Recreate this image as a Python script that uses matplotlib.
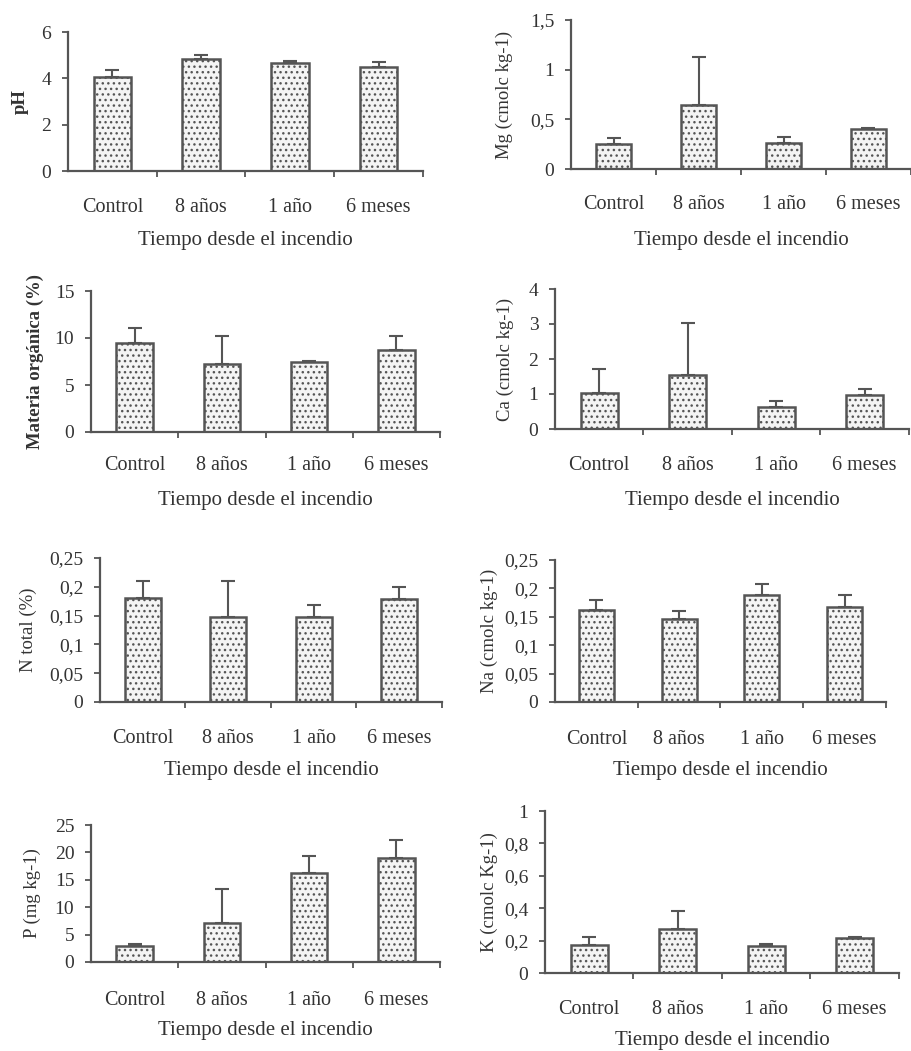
import numpy as np
import matplotlib
matplotlib.use("Agg")
import matplotlib.pyplot as plt

plt.rcParams['font.family'] = ['Liberation Serif', 'DejaVu Serif']
plt.rcParams['hatch.linewidth'] = 1.0

# --- datos ---
categorias = ['Control', '8 años', '1 año', '6 meses']
xlabel_txt = 'Tiempo desde el incendio'

ph_media = [4.05, 4.82, 4.67, 4.50]
ph_de = [0.32, 0.17, 0.06, 0.20]

mg_media = [0.25, 0.645, 0.26, 0.40]
mg_de = [0.06, 0.48, 0.06, 0.015]

mo_media = [9.45, 7.25, 7.40, 8.75]
mo_de = [1.65, 3.00, 0.15, 1.45]

ca_media = [1.02, 1.55, 0.63, 0.97]
ca_de = [0.70, 1.48, 0.16, 0.17]

n_media = [0.180, 0.148, 0.147, 0.179]
n_de = [0.030, 0.062, 0.022, 0.020]

na_media = [0.162, 0.147, 0.189, 0.168]
na_de = [0.018, 0.014, 0.018, 0.021]

p_media = [2.97, 7.16, 16.2, 19.0]
p_de = [0.30, 6.20, 3.20, 3.30]

k_media = [0.174, 0.270, 0.168, 0.219]
k_de = [0.051, 0.110, 0.010, 0.006]

ph_ticks = [0, 2, 4, 6]
mg_ticks = [0, 0.5, 1, 1.5]
mo_ticks = [0, 5, 10, 15]
ca_ticks = [0, 1, 2, 3, 4]
n_ticks = [0, 0.05, 0.1, 0.15, 0.2, 0.25]
na_ticks = [0, 0.05, 0.1, 0.15, 0.2, 0.25]
p_ticks = [0, 5, 10, 15, 20, 25]
k_ticks = [0, 0.2, 0.4, 0.6, 0.8, 1]

paneles = [
    ('pH', ph_media, ph_de, ph_ticks, True),
    ('Mg (cmolc kg-1)', mg_media, mg_de, mg_ticks, False),
    ('Materia orgánica (%)', mo_media, mo_de, mo_ticks, True),
    ('Ca (cmolc kg-1)', ca_media, ca_de, ca_ticks, False),
    ('N total (%)', n_media, n_de, n_ticks, False),
    ('Na (cmolc kg-1)', na_media, na_de, na_ticks, False),
    ('P (mg kg-1)', p_media, p_de, p_ticks, False),
    ('K (cmolc Kg-1)', k_media, k_de, k_ticks, False),
]

# posiciones en pixeles: izquierda, derecha, arriba, abajo
W, H = 912, 1051
cajas = [(68, 423, 32, 171), (571, 911, 20, 169),
         (91, 440, 291, 432), (555, 909, 289, 429),
         (100, 442, 558, 702), (555, 886, 560, 702),
         (91, 440, 825, 962), (545, 899, 811, 973)]
ylab_x = [20, 504, 35, 505, 28, 489, 32, 489]
ticklab_y = [205, 202, 463, 463, 736, 737, 998, 1007]
xlab_y = [240, 240, 500, 500, 770, 770, 1030, 1041]

gris = '#555555'
texto = '#333333'

def etiqueta(v):
    return ('%g' % v).replace('.', ',')

fig = plt.figure(figsize=(W / 100, H / 100), dpi=100)

for i, (ylab, media, de, ticks, negrita) in enumerate(paneles):
    l, r, t, b = cajas[i]
    ax = fig.add_axes([l / W, 1 - b / H, (r - l) / W, (b - t) / H])
    x = np.arange(len(categorias)) + 0.5
    ax.bar(x, media, width=0.42, color='#f4f4f4', edgecolor=gris,
           linewidth=1.8, hatch='...', zorder=2)
    ax.errorbar(x, media, yerr=[np.zeros(len(media)), de], fmt='none',
                ecolor=gris, elinewidth=1.5, capsize=5, capthick=1.5, zorder=3)
    ax.set_xlim(0, len(categorias))
    ax.set_ylim(ticks[0], ticks[-1])
    ax.set_yticks(ticks)
    ax.set_yticklabels([etiqueta(v) for v in ticks])
    ax.set_xticks([1, 2, 3, 4])
    ax.set_xticklabels([])
    ax.set_xticks(x, minor=True)
    ax.set_xticklabels(categorias, minor=True)
    pad_px = ticklab_y[i] - b - 7
    ax.tick_params(axis='x', which='minor', length=0, pad=pad_px * 0.72,
                   labelsize=14.5, colors=texto)
    ax.tick_params(axis='x', which='major', length=4, width=1.3, color=gris,
                   direction='out')
    ax.tick_params(axis='y', length=4, width=1.3, color=gris, pad=8,
                   labelsize=14, labelcolor=texto)
    for lado in ['top', 'right']:
        ax.spines[lado].set_visible(False)
    for lado in ['left', 'bottom']:
        ax.spines[lado].set_color(gris)
        ax.spines[lado].set_linewidth(1.6)

    ax.set_ylabel(ylab, fontsize=13.5, color=texto, va='center',
                  fontweight='bold' if negrita else 'normal')
    ax.yaxis.set_label_coords((ylab_x[i] - l) / (r - l), 0.5)
    ax.set_xlabel(xlabel_txt, fontsize=15, color=texto, va='center')
    ax.xaxis.set_label_coords(0.5, -(xlab_y[i] - b) / (b - t))

fig.savefig('out.png', dpi=100, facecolor='white')
